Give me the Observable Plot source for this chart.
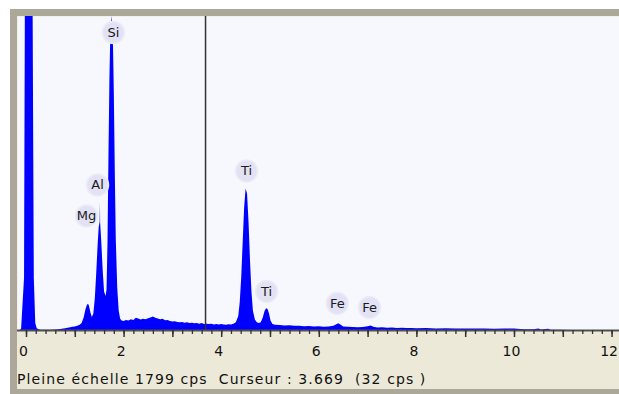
<!DOCTYPE html>
<html>
<head>
<meta charset="utf-8">
<script src="https://cdn.jsdelivr.net/npm/d3@7"></script>
<script src="https://cdn.jsdelivr.net/npm/@observablehq/plot@0.6"></script>
<style>
  html, body { margin: 0; padding: 0; background: #fff; }
  #wrap { position: relative; width: 619px; height: 394px; overflow: hidden; background: #fff; }
  #panel { position: absolute; left: 10px; top: 9px; width: 609px; height: 385px; box-sizing: border-box;
           background: #ece9d8; border-top: 7px solid #aca899; border-left: 7px solid #aca899; border-bottom: 5px solid #aca899; }
  #wrap svg { position: absolute; left: 0; top: 0; }
  #caption { position: absolute; left: 17px; top: 371px; font-family: "DejaVu Sans", sans-serif; font-size: 14px;
             letter-spacing: 1.1px; color: #111; white-space: pre; line-height: 17px; }
</style>
</head>
<body>
<div id="wrap"><div id="panel"></div><div id="caption"></div></div>
<script>
// Spectrum: energy (keV) and counts (cps)
const energy = [
  -0.18, -0.12, -0.10, -0.04, -0.02, 0.00, 0.06, 0.11, 0.13, 0.16, 0.19, 0.22, 0.26, 0.30, 0.40, 0.50, 0.60, 0.70, 0.80, 0.88,
  0.95, 1.00, 1.05, 1.10, 1.14, 1.18, 1.22, 1.25, 1.27, 1.29, 1.32, 1.35, 1.38, 1.41, 1.44, 1.47, 1.49, 1.51, 1.515, 1.52,
  1.54, 1.57, 1.60, 1.63, 1.65, 1.67, 1.69, 1.71, 1.73, 1.755, 1.78, 1.80, 1.82, 1.84, 1.87, 1.90, 1.93, 1.96,
  2.00, 2.05, 2.10, 2.15, 2.20, 2.25, 2.30, 2.35, 2.40, 2.45, 2.50, 2.55, 2.60, 2.65, 2.70, 2.75, 2.80, 2.85, 2.90, 2.95,
  3.00, 3.05, 3.10, 3.15, 3.20, 3.25, 3.30, 3.35, 3.40, 3.45, 3.50, 3.55, 3.60, 3.65, 3.70, 3.75, 3.80, 3.85, 3.90, 3.95,
  4.00, 4.05, 4.10, 4.15, 4.20, 4.25, 4.30, 4.35, 4.38, 4.41, 4.44, 4.47, 4.50, 4.53, 4.56, 4.59, 4.62, 4.65, 4.69, 4.73,
  4.77, 4.81, 4.85, 4.89, 4.92, 4.95, 4.98, 5.01, 5.05, 5.10, 5.20, 5.30, 5.40, 5.50, 5.60, 5.70, 5.80, 5.90, 6.00, 6.10,
  6.20, 6.30, 6.35, 6.40, 6.45, 6.50, 6.60, 6.70, 6.80, 6.90, 7.00, 7.06, 7.12, 7.20, 7.30, 7.40, 7.50, 7.60, 7.70, 7.80,
  7.90, 8.00, 8.20, 8.40, 8.60, 8.80, 9.00, 9.20, 9.40, 9.60, 9.80, 10.00, 10.20, 10.40, 10.50, 10.55, 10.70, 10.75, 10.90, 11.20,
  12.20
];
const counts = [
  0, 0, 10, 300, 2200, 9000, 22000, 9000, 2200, 300, 40, 10, 4, 2, 1, 2, 3, 6, 10, 14,
  18, 20, 24, 30, 40, 70, 120, 145, 150, 140, 100, 75, 95, 180, 330, 500, 590, 620, 730, 610,
  520, 350, 220, 195, 230, 500, 1000, 1450, 1720, 1799, 1680, 1350, 900, 520, 240, 110, 65, 55,
  52, 58, 55, 62, 58, 70, 66, 60, 64, 62, 68, 72, 78, 70, 66, 62, 64, 56, 58, 52,
  48, 50, 46, 44, 46, 42, 44, 40, 42, 38, 40, 36, 40, 34, 36, 34, 36, 32, 34, 32,
  34, 32, 30, 33, 32, 36, 45, 80, 160, 300, 500, 700, 810, 780, 620, 400, 220, 110, 60, 45,
  40, 45, 70, 110, 125, 120, 95, 55, 35, 30, 28, 26, 27, 24, 25, 22, 23, 20, 21, 19,
  20, 24, 32, 38, 30, 20, 18, 17, 16, 17, 22, 26, 18, 15, 16, 13, 14, 12, 13, 11,
  12, 10, 11, 9, 10, 8, 9, 8, 9, 7, 8, 9, 5, 4, 8, 3, 7, 2, 1, 0,
  0
];

// Peak labels
const labelText = ["Si", "Al", "Mg", "Ti", "Ti", "Fe", "Fe"];
const labelEnergy = [1.78, 1.455, 1.23, 4.51, 4.92, 6.37, 7.03];
const labelCps = [1708, 834, 656, 914, 224, 155, 132];

// Axis ticks
const tickLabels = [0, 2, 4, 6, 8, 10, 12];
const majorTicks = [0, 1, 2, 3, 4, 5, 6, 7, 8, 9, 10, 11, 12];
const minorTicks = d3.range(0, 61).map(i => +(i * 0.2).toFixed(1));

const fullScale = 1799;
const cursorE = 3.669;
const cursorCps = 32;

const spectrum = energy.map((e, i) => ({e, c: counts[i]}));
const labels = labelText.map((t, i) => ({t, e: labelEnergy[i], c: labelCps[i]}));

const chart = Plot.plot({
  width: 619,
  height: 394,
  marginLeft: 17,
  marginRight: 0,
  marginTop: 16,
  marginBottom: 64,
  x: {domain: [-0.1844, 12.152]},
  y: {domain: [0, fullScale], axis: null},
  style: {background: "transparent", fontFamily: "DejaVu Sans, sans-serif", fontSize: "12px", color: "#111", overflow: "visible"},
  marks: [
    Plot.frame({fill: "#f7f7fe", stroke: null}),
    Plot.areaY(spectrum, {x: "e", y: "c", fill: "#0000ff", clip: true, curve: "linear"}),
    Plot.ruleX([cursorE], {stroke: "#333", strokeWidth: 1.5}),
    Plot.dot(labels, {x: "e", y: "c", r: 11, fill: "#e2e2f4", stroke: "#ececf8", strokeWidth: 1.5}),
    Plot.text(labels, {x: "e", y: "c", text: "t", fontSize: 13, fill: "#1a1a1a"}),
    Plot.ruleY([0], {stroke: "#505050", strokeWidth: 2}),
    Plot.axisX({ticks: minorTicks, tickSize: 4, tickFormat: () => "", label: null, stroke: "#333", strokeWidth: 1.3}),
    Plot.axisX({ticks: majorTicks, tickSize: 7, tickFormat: () => "", label: null, stroke: "#333", strokeWidth: 1.5}),
    Plot.axisX({ticks: tickLabels, tickSize: 0, tickPadding: 16, dx: -3, label: null, fontSize: 14, fill: "#111"})
  ]
});

document.getElementById("wrap").appendChild(chart);
document.getElementById("caption").textContent =
  `Pleine échelle ${fullScale} cps  Curseur : ${cursorE.toFixed(3)}  (${cursorCps} cps )`;
</script>
</body>
</html>
